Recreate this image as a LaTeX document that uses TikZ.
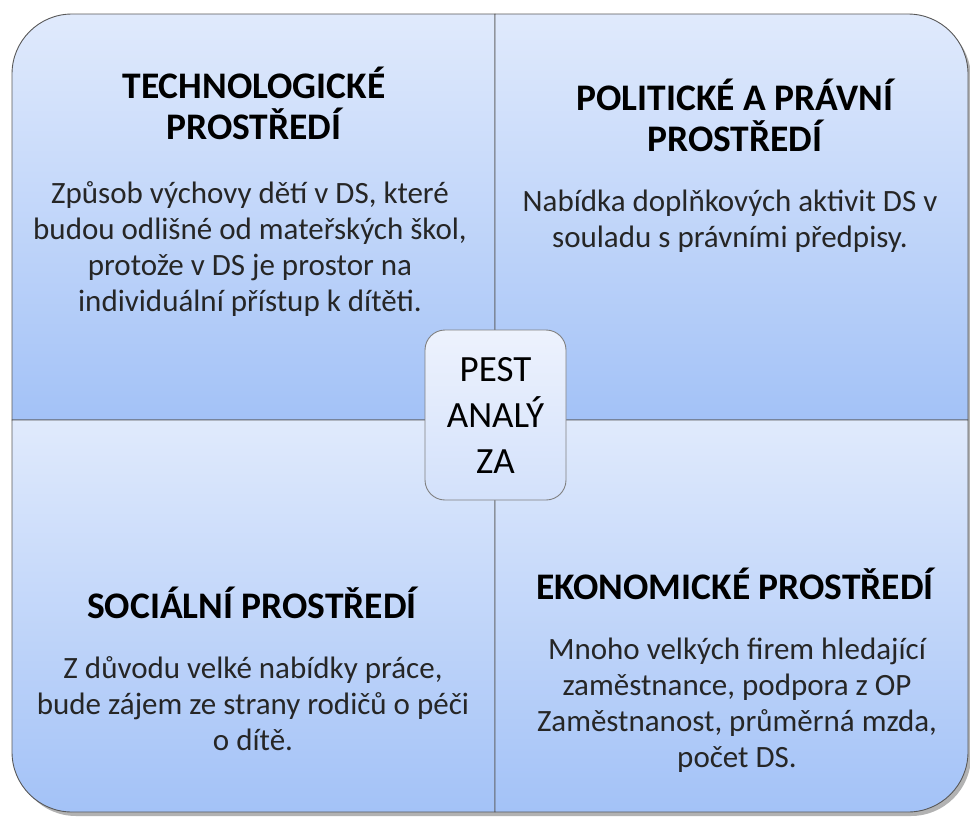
\documentclass[tikz,border=0pt]{standalone}
\usepackage{fontspec}
\setmainfont{Carlito}
\definecolor{quadtop}{HTML}{E0EAFC}
\definecolor{quadbot}{HTML}{A3C2F7}
\definecolor{pesttop}{HTML}{EDF2FD}
\definecolor{pestbot}{HTML}{D3E1FB}
\tikzset{
  quad/.style={draw=black!65, line width=0.9pt, top color=quadtop, bottom color=quadbot},
  head/.style={font=\fontsize{37.5}{41}\selectfont\bfseries, align=center},
  body/.style={font=\fontsize{31}{36}\selectfont, align=center, text=black!85},
  pestbox/.style={draw=black!50, line width=0.9pt, rounded corners=20pt,
    top color=pesttop, bottom color=pestbot, minimum width=141pt, minimum height=170pt,
    font=\fontsize{37}{46}\selectfont, align=center}
}
\begin{document}
\begin{tikzpicture}[x=1pt,y=-1pt]
\useasboundingbox (0,0) rectangle (970,820);
% shadow
\fill[black!30] (16,18) [rounded corners=60] rectangle (971,816);
% quadrants
\path[quad] (12,420) -- (12,200) [rounded corners=60] -- (12,14) -- (250,14) [sharp corners] -- (495,14) -- (495,420) -- cycle;
\path[quad] (495,14) -- (700,14) [rounded corners=60] -- (968,14) -- (968,200) [sharp corners] -- (968,420) -- (495,420) -- cycle;
\path[quad] (12,420) -- (12,600) [rounded corners=60] -- (12,812) -- (250,812) [sharp corners] -- (495,812) -- (495,420) -- cycle;
\path[quad] (495,420) -- (968,420) -- (968,600) [rounded corners=60] -- (968,812) -- (700,812) [sharp corners] -- (495,812) -- cycle;
% texts
\node[head] (techhead) at (254,103) {TECHNOLOGICKÉ\\PROSTŘEDÍ};
\node[body] (techbody) at (250,249) {Způsob výchovy dětí v DS, které\\budou odlišné od mateřských škol,\\protože v DS je prostor na\\individuální přístup k dítěti.};
\node[head] (polhead) at (735,115) {POLITICKÉ A PRÁVNÍ\\PROSTŘEDÍ};
\node[body] (polbody) at (730,221) {Nabídka doplňkových aktivit DS v\\souladu s právními předpisy.};
\node[head] (sochead) at (252,603) {SOCIÁLNÍ PROSTŘEDÍ};
\node[body] (socbody) at (253,704) {Z důvodu velké nabídky práce,\\bude zájem ze strany rodičů o péči\\o dítě.};
\node[head] (ekohead) at (735,584) {EKONOMICKÉ PROSTŘEDÍ};
\node[body] (ekobody) at (737,705) {Mnoho velkých firem hledající\\zaměstnance, podpora z OP\\Zaměstnanost, průměrná mzda,\\počet DS.};
% centre
\node[pestbox] (pest) at (495.5,415) {PEST\\ANALÝ\\ZA};
\end{tikzpicture}
\end{document}
